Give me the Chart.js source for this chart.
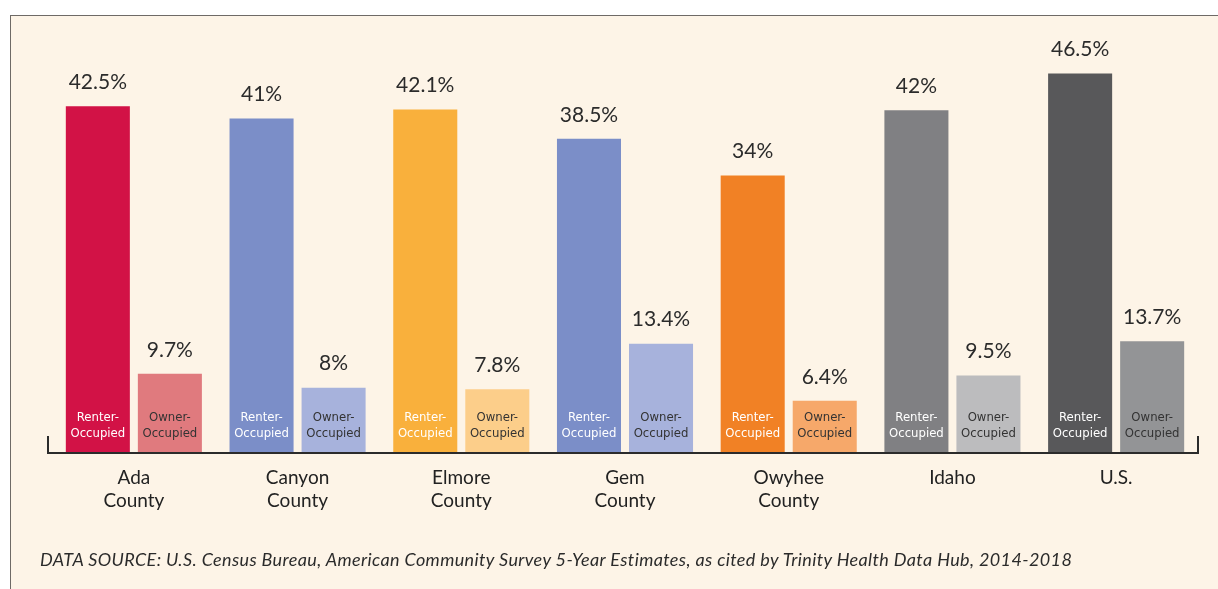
<!DOCTYPE html>
<html>
<head>
<meta charset="utf-8">
<script src="https://cdn.jsdelivr.net/npm/chart.js@4"></script>
<style>
    html, body { margin: 0; padding: 0; background: #fff; }
    body { width: 1218px; height: 589px; position: relative; overflow: hidden; }
    #frame {
        position: absolute; left: 10px; top: 15px; right: 0; bottom: 0;
        background: #fdf4e7; border-left: 1px solid #6e6a66; border-top: 1px solid #6e6a66;
    }
    #wrap { position: absolute; left: 0; top: 0; width: 1218px; height: 589px; }
    #source {
        position: absolute; left: 40px; top: 548px; white-space: nowrap;
        font-family: Lato, sans-serif; font-style: italic; font-size: 18px; color: #2b2b2b;
    }
</style>
</head>
<body>
<div id="frame"></div>
<div id="wrap"><canvas id="chart" width="1218" height="589"></canvas></div>
<div id="source">DATA SOURCE: U.S. Census Bureau, American Community Survey 5-Year Estimates, as cited by Trinity Health Data Hub, 2014-2018</div>
<script>
const categories = [['Ada', 'County'], ['Canyon', 'County'], ['Elmore', 'County'], ['Gem', 'County'], ['Owyhee', 'County'], ['Idaho'], ['U.S.']];
const renterValues = [42.5, 41, 42.1, 38.5, 34, 42, 46.5];
const ownerValues = [9.7, 8, 7.8, 13.4, 6.4, 9.5, 13.7];
const renterColors = ['#d21246', '#7b8ec8', '#f9b03c', '#7b8ec8', '#f18125', '#808083', '#58585a'];
const ownerColors = ['#e07a7e', '#a7b2dc', '#fcce8a', '#a7b2dc', '#f6a86a', '#bcbcbe', '#939496'];
const seriesNames = [['Renter-', 'Occupied'], ['Owner-', 'Occupied']];

const labelFont = 'Lato, "Open Sans", sans-serif';
const narrowFont = '"Liberation Sans Narrow", "DejaVu Sans Condensed", sans-serif';

// stretch the source line to the reference width
const src = document.getElementById('source');
src.style.letterSpacing = ((1032 - src.getBoundingClientRect().width) / src.textContent.length) + 'px';

const barLabels = {
    id: 'barLabels',
    afterDatasetsDraw(chart) {
        const ctx = chart.ctx;
        ctx.save();
        ctx.textAlign = 'center';
        ctx.textBaseline = 'middle';
        chart.data.datasets.forEach((ds, di) => {
            chart.getDatasetMeta(di).data.forEach((bar, i) => {
                ctx.fillStyle = '#2b2b2b';
                ctx.font = '21px ' + labelFont;
                ctx.fillText(ds.data[i] + '%', bar.x, bar.y - 24);
                ctx.fillStyle = di === 0 ? '#ffffff' : '#333333';
                ctx.font = '13px ' + narrowFont;
                ctx.fillText(seriesNames[di][0], bar.x, bar.base - 35);
                ctx.fillText(seriesNames[di][1], bar.x, bar.base - 19);
            });
        });
        // axis bracket
        const a = chart.chartArea;
        ctx.strokeStyle = '#2b2b2b';
        ctx.lineWidth = 2;
        ctx.beginPath();
        ctx.moveTo(a.left - 4, a.bottom - 17);
        ctx.lineTo(a.left - 4, a.bottom);
        ctx.lineTo(a.right, a.bottom);
        ctx.lineTo(a.right, a.bottom - 17);
        ctx.stroke();
        ctx.restore();
    },
};

new Chart(document.getElementById('chart'), {
    type: 'bar',
    data: {
        labels: categories,
        datasets: [
            { label: 'Renter-Occupied', data: renterValues, backgroundColor: renterColors },
            { label: 'Owner-Occupied', data: ownerValues, backgroundColor: ownerColors },
        ],
    },
    options: {
        responsive: false,
        animation: false,
        devicePixelRatio: 1,
        layout: { padding: { left: 52, right: 20, top: 45, bottom: 0 } },
        categoryPercentage: 0.88,
        barPercentage: 0.889,
        scales: {
            y: { display: false, min: 0, max: 50 },
            x: {
                afterFit: (s) => { s.height = 136; },
                grid: { display: false, drawTicks: false },
                border: { display: false },
                ticks: {
                    padding: 13,
                    color: '#222222',
                    font: { family: labelFont, size: 19, lineHeight: 1.22 },
                    maxRotation: 0,
                },
            },
        },
        plugins: {
            legend: { display: false },
            tooltip: { enabled: false },
        },
    },
    plugins: [barLabels],
});
</script>
</body>
</html>
